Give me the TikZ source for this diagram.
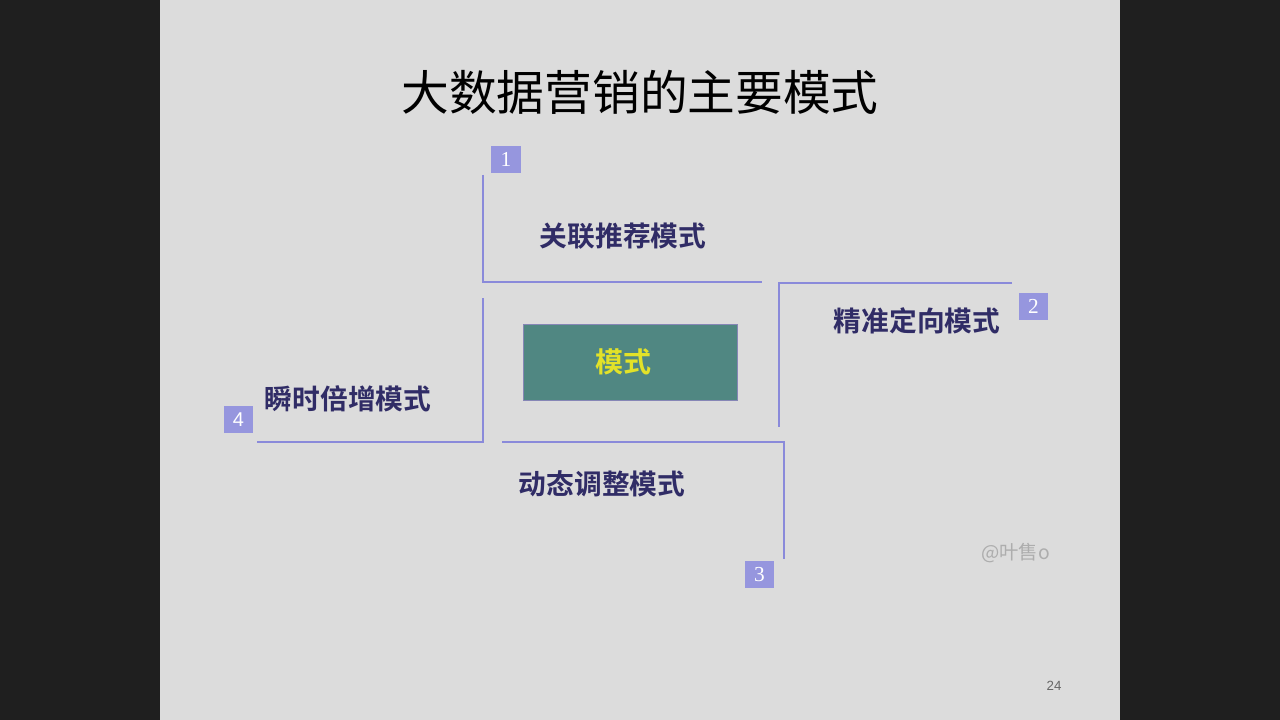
\documentclass[tikz,border=0pt]{standalone}
\usepackage{fontspec}
\setmainfont{Liberation Serif}
\newfontfamily\cjk{Noto Sans CJK SC}
\newfontfamily\cjkbold{Noto Sans CJK SC Bold}
\newfontfamily\numsans{Liberation Sans}
\definecolor{slidebg}{RGB}{220,220,220}
\definecolor{framecol}{RGB}{138,138,218}
\definecolor{tagcol}{RGB}{150,150,222}
\definecolor{labelcol}{RGB}{48,44,102}
\definecolor{corecol}{RGB}{80,135,130}
\definecolor{coretext}{RGB}{226,226,40}
\begin{document}
\begin{tikzpicture}[x=0.75pt,y=-0.75pt,
  frame/.style={draw=framecol,line width=1.6pt},
  tag/.style={fill=tagcol,minimum width=22pt,minimum height=20.5pt,inner sep=0pt,
    text=white,font=\fontsize{16}{16}\selectfont},
  modelabel/.style={text=labelcol,font=\cjkbold\fontsize{20.8}{20.8}\selectfont,inner sep=0pt},
]
% page and slide
\fill[black!88] (0,0) rectangle (1280,720);
\fill[slidebg] (160,0) rectangle (1120,720);
\useasboundingbox (0,0) rectangle (1280,720);

% title
\node[font=\cjk\fontsize{35.8}{35.8}\selectfont,inner sep=0pt] (title) at (640,92) {大数据营销的主要模式};

% core box
\node[fill=corecol,draw=framecol!60!gray,line width=0.6pt,minimum width=161pt,minimum height=57.5pt,
  inner sep=0pt] (core) at (630.5,362.5) {};
\node[text=coretext,font=\cjkbold\fontsize{21}{21}\selectfont,inner sep=0pt] (coretxt) at (623,362) {模式};

% quadrant frames
\draw[frame] (483,175) -- (483,282) -- (762,282);
\draw[frame] (1012,283) -- (779,283) -- (779,427);
\draw[frame] (502,442) -- (784,442) -- (784,559);
\draw[frame] (483,298) -- (483,442) -- (257,442);

% number tags
\node[tag] (t1) at (506,159.5) {1};
\node[tag] (t2) at (1033.5,306.5) {2};
\node[tag] (t3) at (759.5,574.5) {3};
\node[tag,font=\numsans\fontsize{15}{15}\selectfont] (t4) at (238.5,419.5) {4};

% mode labels
\node[modelabel] (m1) at (623,236) {关联推荐模式};
\node[modelabel] (m2) at (917,321) {精准定向模式};
\node[modelabel] (m3) at (602,484) {动态调整模式};
\node[modelabel] (m4) at (348,399) {瞬时倍增模式};

% watermark, cut at the right
\begin{scope}
\clip (960,530) rectangle (1052,600);
\node[anchor=west,text=black!32,font=\cjk\fontsize{14.5}{14.5}\selectfont,inner sep=0pt] (wm) at (981,553) {@叶售o};
\end{scope}

% page number
\node[text=black!60,font=\numsans\fontsize{10}{10}\selectfont,inner sep=0pt] (pg) at (1054,686) {24};
\end{tikzpicture}
\end{document}
